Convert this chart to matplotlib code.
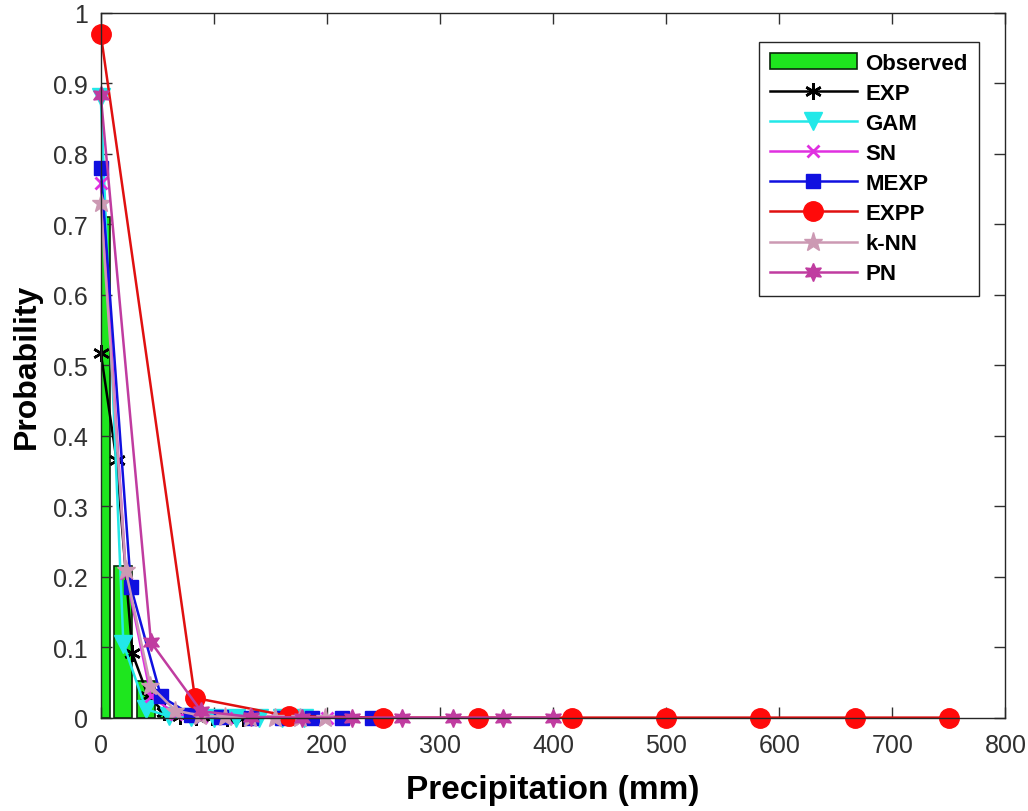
import matplotlib.pyplot as plt
import numpy as np

plt.rcParams['font.family'] = ['Liberation Sans', 'DejaVu Sans']

# observed histogram (bar centres and probabilities)
obs_x = [0, 20, 40, 60, 80, 100, 120, 140, 160, 180]
obs_p = [0.71, 0.215, 0.052, 0.013, 0.004, 0.002, 0.001, 0.0005, 0.0, 0.0]

# fitted models
exp_x = [0, 14, 28, 42, 56, 70, 84, 98, 112, 126]
exp_p = [0.518, 0.365, 0.091, 0.03, 0.008, 0.003, 0.001, 0.0005, 0.0, 0.0]

gam_x = [0, 20, 40, 60, 80, 100, 120, 140, 160, 180]
gam_p = [0.88, 0.105, 0.012, 0.002, 0.0005, 0.0, 0.0, 0.0, 0.0, 0.0]

sn_x = [0, 22.2, 44.4, 66.7, 88.9, 111.1, 133.3, 155.6, 177.8, 200]
sn_p = [0.758, 0.205, 0.03, 0.005, 0.001, 0.0, 0.0, 0.0, 0.0, 0.0]

mexp_x = [0, 26.7, 53.3, 80, 106.7, 133.3, 160, 186.7, 213.3, 240]
mexp_p = [0.78, 0.185, 0.03, 0.004, 0.001, 0.0, 0.0, 0.0, 0.0, 0.0]

expp_x = [0, 83.3, 166.7, 250, 333.3, 416.7, 500, 583.3, 666.7, 750]
expp_p = [0.97, 0.028, 0.002, 0.0, 0.0, 0.0, 0.0, 0.0, 0.0, 0.0]

knn_x = [0, 22, 44, 66, 88, 110, 132, 154, 176, 198]
knn_p = [0.73, 0.21, 0.045, 0.01, 0.003, 0.001, 0.0, 0.0, 0.0, 0.0]

pn_x = [0, 44.4, 88.9, 133.3, 177.8, 222.2, 266.7, 311.1, 355.6, 400]
pn_p = [0.883, 0.107, 0.009, 0.001, 0.0, 0.0, 0.0, 0.0, 0.0, 0.0]

fig = plt.figure(figsize=(10.28, 8.12), dpi=100)
ax = fig.add_axes([0.098, 0.115, 0.88, 0.868])

ax.bar(obs_x, obs_p, width=16, color='#1ee61e', edgecolor='#0a280a', linewidth=1.2, label='Observed')

lw = 1.8
ax.plot(exp_x, exp_p, '-', color='black', marker=(6, 2, 0), markersize=12, markeredgewidth=1.8, lw=lw, label='EXP', clip_on=False)
ax.plot(gam_x, gam_p, '-', color='#22e8e8', marker='v', markersize=13, lw=lw, label='GAM', clip_on=False)
ax.plot(sn_x, sn_p, '-', color='#e030e0', marker='x', markersize=9, markeredgewidth=2, lw=lw, label='SN', clip_on=False)
ax.plot(mexp_x, mexp_p, '-', color='#1010e0', marker='s', markersize=10, lw=lw, label='MEXP', clip_on=False)
ax.plot(expp_x, expp_p, '-', color='#e01010', marker='o', markersize=14, markerfacecolor='#ff0a0a', markeredgecolor='#ff0a0a', lw=lw, label='EXPP', clip_on=False)
ax.plot(knn_x, knn_p, '-', color='#cc99b3', marker='*', markersize=14, lw=lw, label='k-NN', clip_on=False)
ax.plot(pn_x, pn_p, '-', color='#c03ca0', marker=(6, 1, 0), markersize=13, lw=lw, label='PN', clip_on=False)

ax.set_xlim(0, 800)
ax.set_ylim(0, 1)
ax.set_xticks([0, 100, 200, 300, 400, 500, 600, 700, 800])
ax.set_yticks([0, 0.1, 0.2, 0.3, 0.4, 0.5, 0.6, 0.7, 0.8, 0.9, 1])
ax.set_yticklabels(['0', '0.1', '0.2', '0.3', '0.4', '0.5', '0.6', '0.7', '0.8', '0.9', '1'])
ax.tick_params(direction='in', length=8, width=1, top=True, right=True,
               labelsize=18, colors='#303030')
ax.tick_params(axis='x', pad=11)
ax.tick_params(axis='y', pad=9)
for s in ax.spines.values():
    s.set_color('#262626')
    s.set_linewidth(1)

ax.set_xlabel('Precipitation (mm)', fontsize=24, fontweight='bold', labelpad=12)
ax.set_ylabel('Probability', fontsize=23, fontweight='bold', labelpad=8)

# legend with the histogram first
handles, labels = ax.get_legend_handles_labels()
order = [labels.index(n) for n in ['Observed', 'EXP', 'GAM', 'SN', 'MEXP', 'EXPP', 'k-NN', 'PN']]
leg = ax.legend([handles[i] for i in order], [labels[i] for i in order],
                loc='upper right', bbox_to_anchor=(0.983, 0.975),
                prop={'weight': 'bold', 'size': 16}, handlelength=3.9, labelspacing=0.41,
                fancybox=False, edgecolor='#262626', framealpha=1, borderpad=0.5,
                handletextpad=0.4)
leg.get_frame().set_linewidth(1)

fig.savefig('out.png', dpi=100)
